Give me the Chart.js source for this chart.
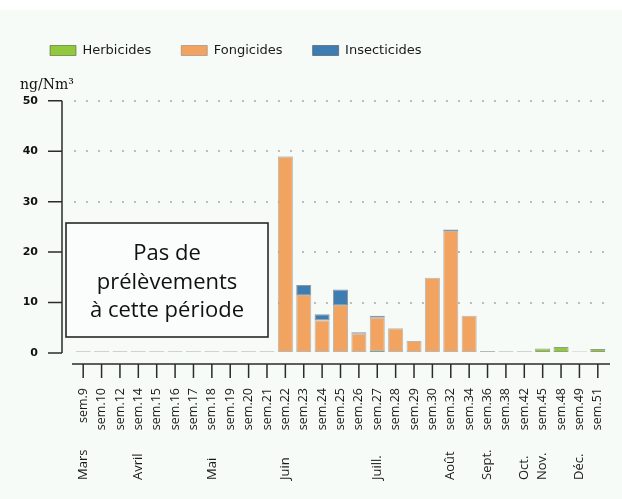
<!DOCTYPE html>
<html lang="fr">
<head>
<meta charset="utf-8">
<script src="https://cdn.jsdelivr.net/npm/chart.js@4.4.0/dist/chart.umd.min.js"></script>
<style>
  html, body { margin: 0; padding: 0; background: #fff; }
</style>
</head>
<body>
<canvas id="chart" width="622" height="499"></canvas>
<script>
// Weekly samples, one bar per week
const weeks = [
  "sem.9", "sem.10", "sem.12", "sem.14", "sem.15", "sem.16", "sem.17", "sem.18",
  "sem.19", "sem.20", "sem.21", "sem.22", "sem.23", "sem.24", "sem.25", "sem.26",
  "sem.27", "sem.28", "sem.29", "sem.30", "sem.32", "sem.34", "sem.36", "sem.38",
  "sem.42", "sem.45", "sem.48", "sem.49", "sem.51",
];
// month name printed under the first week of each month
const months = [
  "Mars", "", "", "Avril", "", "", "", "Mai",
  "", "", "", "Juin", "", "", "", "",
  "Juill.", "", "", "", "Août", "", "Sept.", "",
  "Oct.", "Nov.", "", "Déc.", "",
];
// ng/Nm3
const herbicides = [
  0, 0, 0, 0, 0, 0, 0, 0,
  0, 0, 0, 0, 0, 0.2, 0.2, 0,
  0.4, 0, 0.2, 0, 0, 0, 0, 0,
  0, 0.9, 1.2, 0.3, 0.8,
];
const fongicides = [
  0, 0, 0, 0, 0, 0, 0, 0,
  0, 0, 0, 38.9, 11.5, 6.3, 9.3, 3.8,
  6.6, 4.9, 2.2, 14.9, 24.2, 7.4, 0.4, 0,
  0, 0, 0, 0, 0,
];
const insecticides = [
  0, 0, 0, 0, 0, 0, 0, 0,
  0, 0, 0, 0.1, 2.0, 1.2, 3.1, 0.3,
  0.4, 0, 0, 0, 0.3, 0, 0, 0,
  0, 0, 0, 0, 0,
];
// weeks with nothing measured only leave a thin trace on the baseline
const noSample = [
  0.35, 0.35, 0.35, 0.35, 0.35, 0.35, 0.35, 0.35,
  0.35, 0.35, 0.35, 0, 0, 0, 0, 0,
  0, 0, 0, 0, 0, 0, 0, 0.35,
  0.35, 0, 0, 0, 0,
];
const yTicks = [0, 10, 20, 30, 40, 50];
const noteLines = ["Pas de", "prélèvements", "à cette période"];

// background, offset axes, month names and the note box
const decorations = {
  id: "decorations",
  beforeDraw(chart) {
    const ctx = chart.ctx;
    ctx.save();
    ctx.fillStyle = "#ffffff";
    ctx.fillRect(0, 0, chart.width, chart.height);
    ctx.fillStyle = "#f6fbf8";
    ctx.fillRect(0, 10, chart.width, chart.height - 10);
    ctx.restore();
  },
  afterDraw(chart) {
    const { ctx, chartArea } = chart;
    const x = chart.scales.x;
    const y = chart.scales.y;
    ctx.save();

    ctx.strokeStyle = "#2b2b2b";
    ctx.lineWidth = 1.5;
    ctx.beginPath();
    // y axis sits a little left of the plot
    const ax = chartArea.left - 12;
    ctx.moveTo(ax, y.getPixelForValue(yTicks[yTicks.length - 1]));
    ctx.lineTo(ax, y.getPixelForValue(0));
    yTicks.forEach((v) => {
      const py = y.getPixelForValue(v);
      ctx.moveTo(ax - 14, py);
      ctx.lineTo(ax, py);
    });
    // x axis sits a little below the baseline
    const ay = chartArea.bottom + 11;
    ctx.moveTo(chartArea.left - 2, ay);
    ctx.lineTo(chartArea.right + 3, ay);
    weeks.forEach((w, i) => {
      const px = x.getPixelForValue(i);
      ctx.moveTo(px, ay);
      ctx.lineTo(px, ay + 14);
    });
    ctx.stroke();

    ctx.fillStyle = "#1a1a1a";
    ctx.font = '13px "Open Sans"';
    ctx.textAlign = "left";
    ctx.textBaseline = "middle";
    months.forEach((m, i) => {
      if (!m) return;
      ctx.save();
      ctx.translate(x.getPixelForValue(i), chart.height - 19);
      ctx.rotate(-Math.PI / 2);
      ctx.fillText(m, 0, 0);
      ctx.restore();
    });

    // note over the weeks without samples
    ctx.fillStyle = "#fafdfb";
    ctx.fillRect(66, 223, 202, 114);
    ctx.strokeStyle = "#1a1a1a";
    ctx.lineWidth = 1.5;
    ctx.strokeRect(66, 223, 202, 114);
    ctx.fillStyle = "#111";
    ctx.font = '22px "Open Sans"';
    ctx.textAlign = "center";
    ctx.textBaseline = "alphabetic";
    noteLines.forEach((line, i) => {
      ctx.fillText(line, 167, 260 + i * 28.5);
    });

    ctx.restore();
  },
};

const barStyle = {
  borderWidth: 1,
  borderSkipped: false,
  barPercentage: 0.82,
  categoryPercentage: 1,
};

new Chart(document.getElementById("chart"), {
  type: "bar",
  data: {
    labels: weeks,
    datasets: [
      { ...barStyle, label: "Herbicides", data: herbicides, backgroundColor: "#92c83e", borderColor: "rgba(80,100,50,0.6)" },
      { ...barStyle, label: "Fongicides", data: fongicides, backgroundColor: "#f1a35f", borderColor: "rgba(130,130,130,0.55)" },
      { ...barStyle, label: "Insecticides", data: insecticides, backgroundColor: "#3d7db3", borderColor: "rgba(70,70,70,0.55)" },
      { ...barStyle, label: "trace", data: noSample, backgroundColor: "#b4b4b4", borderColor: "#b4b4b4" },
    ],
  },
  options: {
    responsive: false,
    animation: false,
    devicePixelRatio: 1,
    layout: { padding: { top: 14, left: 20, right: 15, bottom: 0 } },
    plugins: {
      legend: {
        position: "top",
        align: "start",
        labels: {
          boxWidth: 26,
          boxHeight: 10,
          padding: 30,
          color: "#1a1a1a",
          font: { family: "DejaVu Sans", size: 13 },
          filter: (item) => item.datasetIndex < 3,
        },
      },
      title: {
        display: true,
        text: "ng/Nm³",
        align: "start",
        weight: 500,
        color: "#111",
        font: { family: "DejaVu Serif", size: 14, weight: "normal" },
        padding: { top: 10, bottom: 7 },
      },
      tooltip: { enabled: false },
    },
    scales: {
      x: {
        stacked: true,
        offset: true,
        // hidden tick marks only push the week labels down
        grid: { display: false, drawTicks: true, tickLength: 35 },
        border: { display: false },
        ticks: {
          autoSkip: false,
          minRotation: 90,
          maxRotation: 90,
          padding: 0,
          color: "#1a1a1a",
          font: { family: "Open Sans", size: 12.5 },
        },
        afterFit: (scale) => {
          scale.height = 146;
        },
      },
      y: {
        stacked: true,
        min: 0,
        max: 50,
        ticks: {
          stepSize: 10,
          padding: 36,
          color: "#111",
          font: { family: "DejaVu Sans", size: 11, weight: "bold" },
        },
        grid: {
          drawTicks: false,
          lineWidth: 2,
          color: (c) => (c.tick.value === 0 ? "rgba(0,0,0,0)" : "#bdbdbd"),
        },
        border: { display: false, dash: [2, 10] },
        afterFit: (scale) => {
          scale.width = 54;
        },
      },
    },
  },
  plugins: [decorations],
});
</script>
</body>
</html>
